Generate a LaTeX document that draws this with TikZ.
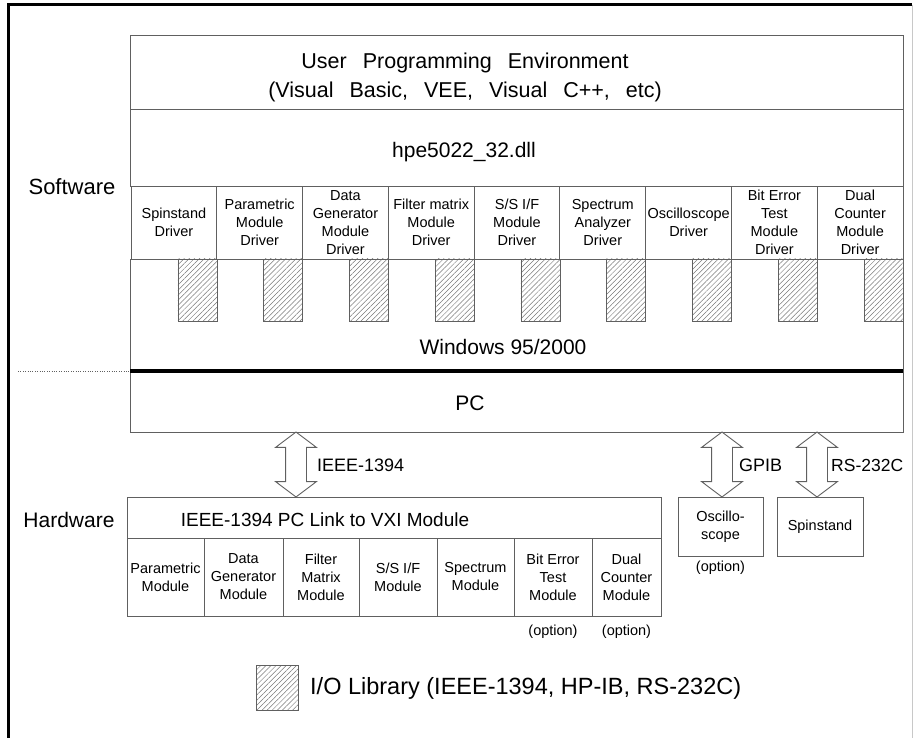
\documentclass[tikz,border=0pt]{standalone}
\usepackage{fontspec}
\setmainfont{Liberation Sans}
\usepackage{tikz}
\usetikzlibrary{
    shapes.arrows,
    patterns.meta,
    positioning,
    calc
}
\definecolor{linegray}{RGB}{96, 96, 96}
\definecolor{hatchgray}{RGB}{120, 120, 120}
\definecolor{rimgray}{RGB}{200, 200, 200}
\newcommand{\widefont}{\fontsize{21.5}{29}\selectfont\spaceskip=16pt\relax}

\begin{document}
\begin{tikzpicture}[
        x=1pt, y=-1pt,
        box/.style={draw=linegray, line width=0.9pt, inner sep=0pt, outer sep=0pt, align=center, font=\fontsize{14.5}{18}\selectfont},
        bigtext/.style={font=\fontsize{21}{31}\selectfont, align=center},
        midtext/.style={font=\fontsize{18}{22}\selectfont, inner sep=0pt, anchor=west},
        note/.style={font=\fontsize{14.5}{18}\selectfont},
        drv/.style={box, minimum width=85.78, minimum height=73},
        modbox/.style={box, minimum height=78},
        iolib/.style={draw=linegray, line width=0.6pt, inner sep=0pt, outer sep=0pt, minimum width=39, minimum height=62,
            pattern={Lines[angle=45, distance=3.6pt, line width=0.5pt]}, pattern color=hatchgray},
        bus/.style={double arrow, draw=linegray, line width=0.9pt, fill=white, rotate=90, minimum height=65,
            inner xsep=0pt, inner ysep=10pt, double arrow head extend=10pt, double arrow tip angle=106, outer sep=0pt}
    ]
        \useasboundingbox (0,0) rectangle (914,738);

        % Frame
        \draw[line width=3pt] (8,738) -- (8,5) -- (912,5);
        \draw[rimgray, line width=1.5pt] (912.5,5) -- (912.5,738);

        % Side labels
        \node[bigtext, font=\fontsize{22}{26}\selectfont] (sw) at (72,187) {Software};
        \node[bigtext] (hw) at (69,520) {Hardware};

        % Software stack
        \node[box, minimum width=773, minimum height=74] (upe) at (516.5,72) {};
        \node[align=center, font=\widefont] (upetxt) at (465,77.5) {
            User Programming Environment\\
            (Visual Basic, VEE, Visual C++, etc)
        };
        \node[box, minimum width=773, minimum height=77] (dll) at (516.5,147.5) {};
        \node[bigtext] (dlltxt) at (464,152) {hpe5022\_32.dll};

        % Drivers
        \node[drv] (spdrv) at (173.9,222.5) {Spinstand\\Driver};
        \node[drv] (padrv) at (259.7,222.5) {Parametric\\Module\\Driver};
        \node[drv] (dgdrv) at (345.5,222.5) {Data\\Generator\\Module\\Driver};
        \node[drv] (fmdrv) at (431.2,222.5) {Filter matrix\\Module\\Driver};
        \node[drv] (ssdrv) at (517.0,222.5) {S/S I/F\\Module\\Driver};
        \node[drv] (sadrv) at (602.8,222.5) {Spectrum\\Analyzer\\Driver};
        \node[drv] (osdrv) at (688.6,222.5) {Oscilloscope\\Driver};
        \node[drv] (bedrv) at (774.4,222.5) {Bit Error\\Test\\Module\\Driver};
        \node[drv] (dcdrv) at (860.1,222.5) {Dual\\Counter\\Module\\Driver};

        % Windows layer
        \node[box, minimum width=773, minimum height=112] (win) at (516.5,315) {};
        \node[bigtext] (wintxt) at (503,347) {Windows 95/2000};

        % I/O libraries
        \node[iolib] (spio) at (197.3,290) {};
        \node[iolib] (paio) at (283.1,290) {};
        \node[iolib] (dgio) at (368.8,290) {};
        \node[iolib] (fmio) at (454.6,290) {};
        \node[iolib] (ssio) at (540.4,290) {};
        \node[iolib] (saio) at (626.2,290) {};
        \node[iolib] (osio) at (712.0,290) {};
        \node[iolib] (beio) at (797.7,290) {};
        \node[iolib] (dcio) at (883.5,290) {};

        % PC
        \node[box, minimum width=773, minimum height=61] (pc) at (516.5,401.5) {};
        \node[bigtext] (pctxt) at (470,403) {PC};
        \draw[line width=4pt] (pc.north west) -- (pc.north east);
        \coordinate (divide) at (18,371);
        \draw[dotted, linegray] (divide) -- (pc.north west);

        % VXI link
        \node[box, minimum width=534, minimum height=41] (link) at (394,517.5) {};
        \node[font=\fontsize{19}{22}\selectfont] (linktxt) at (325,520) {IEEE-1394 PC Link to VXI Module};

        % Modules
        \node[modbox, minimum width=77] (pamod) at (165.5,577) {Parametric\\Module};
        \node[modbox, minimum width=79] (dgmod) at (243.5,577) {Data\\Generator\\Module};
        \node[modbox, minimum width=76] (fmmod) at (321,577) {Filter\\Matrix\\Module};
        \node[modbox, minimum width=78] (ssmod) at (398,577) {S/S I/F\\Module};
        \node[modbox, minimum width=77] (samod) at (475.5,577) {Spectrum\\Module};
        \node[modbox, minimum width=78] (bemod) at (553,577) {Bit Error\\Test\\Module};
        \node[modbox, minimum width=69] (dcmod) at (626.5,577) {Dual\\Counter\\Module};
        \node[note] (beopt) at (553,632) {(option)};
        \node[note] (dcopt) at (626.5,632) {(option)};

        % Instruments
        \node[box, minimum width=85, minimum height=59] (osc) at (720.5,526.5) {Oscillo-\\scope};
        \node[box, minimum width=86, minimum height=59] (spin) at (820,526.5) {Spinstand};
        \node[note] (oscopt) at (720.5,568) {(option)};

        % Buses
        \node[bus] (fw) at (296,464.5) {};
        \node[bus] (gpib) at (722,464.5) {};
        \node[bus] (rs) at (817,464.5) {};
        \node[midtext] (fwlbl) at (317,465) {IEEE-1394};
        \node[midtext] (gpiblbl) at (739,465) {GPIB};
        \node[midtext, font=\fontsize{17.5}{22}\selectfont] (rslbl) at (831,465) {RS-232C};

        % Legend
        \node[iolib, minimum width=42, minimum height=45] (key) at (277,687.5) {};
        \node[font=\fontsize{23.5}{26}\selectfont, inner sep=0pt, anchor=west] (keytxt) at (310,688) {I/O Library (IEEE-1394, HP-IB, RS-232C)};
    \end{tikzpicture}
\end{document}
